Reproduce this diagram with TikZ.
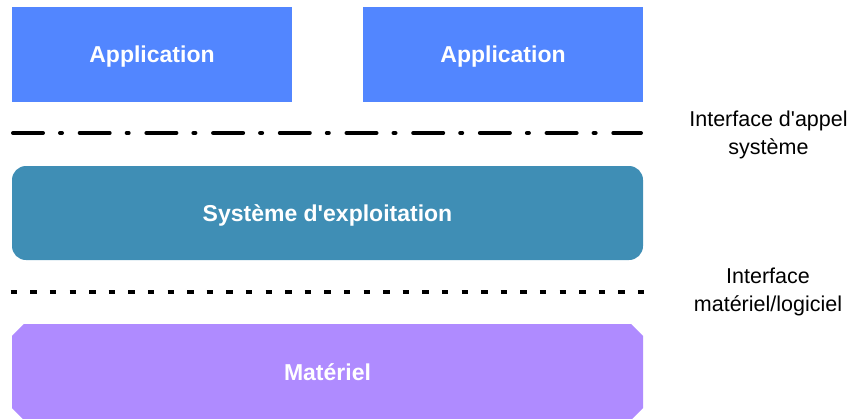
\documentclass[tikz,border=0pt]{standalone}
\usepackage{fontspec}
\setmainfont{Liberation Sans}[Ligatures=TeXOff]
\usetikzlibrary{shapes.misc}
\definecolor{appblue}{HTML}{5286FF}
\definecolor{osblue}{HTML}{3F8EB5}
\definecolor{hwpurple}{HTML}{AF8BFF}
\begin{document}
\begin{tikzpicture}[x=1pt,y=-1pt,
  layer/.style={draw=none,inner sep=0pt,text=white,text depth=0pt,
    font=\fontsize{23}{27}\selectfont\bfseries},
  appbox/.style={layer,fill=appblue,minimum width=280pt,minimum height=95pt},
  osbox/.style={layer,fill=osblue,rounded corners=14pt,minimum width=631pt,minimum height=94pt},
  hwbox/.style={layer,fill=hwpurple,chamfered rectangle,chamfered rectangle xsep=15pt,
    chamfered rectangle angle=45,minimum width=631pt,minimum height=96pt},
  iface/.style={align=center,inner sep=0pt,font=\fontsize{21.5}{28}\selectfont},
  syscall/.style={line width=4pt,line cap=round,dash pattern=on 30pt off 17pt on 2pt off 17.7pt},
  hwline/.style={line width=4.5pt,dash pattern=on 6.5pt off 13.1pt}]
\useasboundingbox (0,0) rectangle (848,418);

% applications
\node[appbox] (app1) at (152,54.5) {Application};
\node[appbox] (app2) at (503,54.5) {Application};

% system-call boundary
\coordinate (sc1) at (13,133);
\coordinate (sc2) at (641,133);
\draw[syscall] (sc1) -- (sc2);
\node[iface] (sclabel) at (768.5,135) {Interface d'appel\\système};

% operating system
\node[osbox] (os) at (327.5,213) {Système d'exploitation};

% hardware/software boundary
\coordinate (hw1) at (10.7,292);
\coordinate (hw2) at (645,292);
\draw[hwline] (hw1) -- (hw2);
\node[iface] (hwlabel) at (768,291.5) {Interface\\matériel/logiciel};

% hardware
\node[hwbox] (hw) at (327.5,372) {Matériel};
\end{tikzpicture}
\end{document}
